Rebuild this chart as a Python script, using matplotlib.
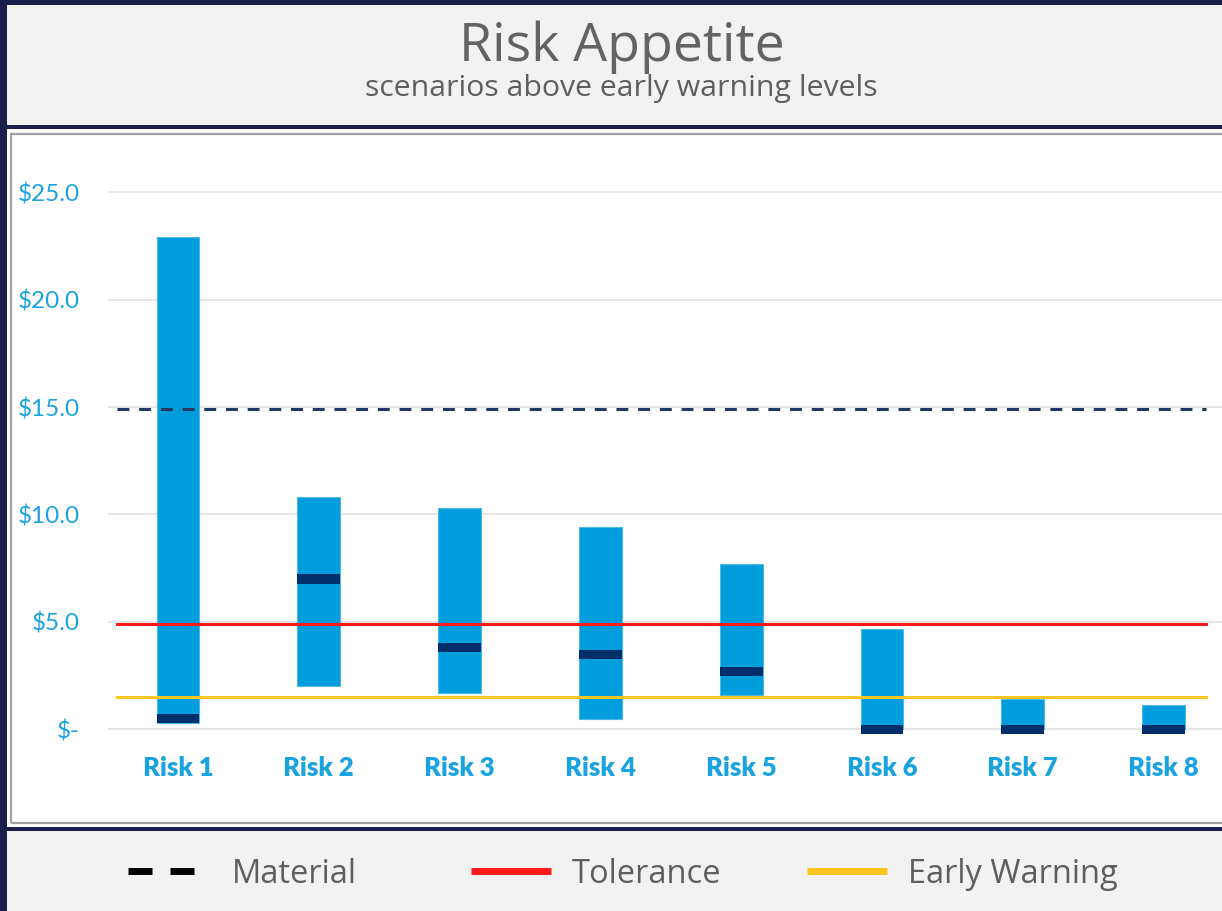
import matplotlib
matplotlib.use("Agg")
import matplotlib.pyplot as plt
from matplotlib.patches import Rectangle
from matplotlib.lines import Line2D
import numpy as np

# ---- data -------------------------------------------------------------
categories = ["Risk 1", "Risk 2", "Risk 3", "Risk 4", "Risk 5", "Risk 6", "Risk 7", "Risk 8"]
scenario_low = [0.3, 2.0, 1.7, 0.5, 1.6, 0.0, 0.0, 0.0]
scenario_high = [22.9, 10.8, 10.3, 9.4, 7.7, 4.65, 1.4, 1.15]
scenario_expected = [0.52, 7.0, 3.8, 3.5, 2.7, 0.0, 0.0, 0.0]

material_level = 14.9
tolerance_level = 4.9
early_warning_level = 1.5

y_ticks = [0, 5, 10, 15, 20, 25]
y_tick_labels = ["$-" if v == 0 else f"${v:.1f}" for v in y_ticks]

# ---- styling ----------------------------------------------------------
W, H = 1222, 911
NAVY_BG = "#1B1E4A"
PANEL_GREY = "#F2F2F2"
BAR_BLUE = "#009DDC"
MARK_NAVY = "#002E6B"
MATERIAL_NAVY = "#1F3864"
TOL_RED = "#FF1A1A"
EW_YELLOW = "#FFC41F"
TICK_BLUE = "#1AA3E0"
TEXT_GREY = "#5E5E5E"

fig = plt.figure(figsize=(W / 100, H / 100), dpi=100)
fig.patch.set_facecolor(NAVY_BG)


def fx(x):
    return x / W


def fy(y):
    return 1 - y / H


def panel(x0, y0, x1, y1, **kw):
    r = Rectangle((fx(x0), fy(y1)), (x1 - x0) / W, (y1 - y0) / H,
                  transform=fig.transFigure, zorder=-10, **kw)
    fig.add_artist(r)
    return r


# header, chart and legend panels
panel(7, 5, W + 5, 125, facecolor=PANEL_GREY, edgecolor="none")
panel(7, 129, W + 5, 826.5, facecolor="white", edgecolor="none")
panel(10.5, 134, W + 20, 823, facecolor="none", edgecolor="#A0A0A0", linewidth=1.6)
panel(7, 831, W + 5, H + 5, facecolor=PANEL_GREY, edgecolor="none")

# ---- axes -------------------------------------------------------------
x_lo, x_hi = -0.497, 7.415
y_lo, y_hi = -0.6, 27.0
ax_left_px, ax_right_px = 108, W
ax_bottom_px, ax_top_px = 742.2, 149.3
ax = fig.add_axes([fx(ax_left_px), fy(ax_bottom_px),
                   (ax_right_px - ax_left_px) / W, (ax_bottom_px - ax_top_px) / H])
ax.set_facecolor("none")
ax.set_xlim(x_lo, x_hi)
ax.set_ylim(y_lo, y_hi)
for s in ax.spines.values():
    s.set_visible(False)

x = np.arange(len(categories))
bar_w = 0.303

ax.set_yticks(y_ticks)
ax.set_yticklabels(y_tick_labels)
ax.grid(axis="y", color="#E6E6E6", linewidth=1.4, zorder=0)
ax.set_axisbelow(True)
ax.tick_params(axis="y", length=0, pad=20, labelsize=17.5, labelcolor=TICK_BLUE)
for lab in ax.get_yticklabels():
    lab.set_fontfamily("Lato")

ax.set_xticks(x)
ax.set_xticklabels(categories)
ax.tick_params(axis="x", length=0, pad=10, labelsize=18.5, labelcolor=TICK_BLUE)
for lab in ax.get_xticklabels():
    lab.set_fontfamily("Lato")
    lab.set_fontweight("heavy")

# scenario ranges
low = np.array(scenario_low)
high = np.array(scenario_high)
ax.bar(x, high - low, bottom=low, width=bar_w, color=BAR_BLUE,
       edgecolor="#4CB9E8", linewidth=0.8, zorder=2)

# expected-loss markers
mark_h = 0.43
exp = np.array(scenario_expected)
ax.bar(x, mark_h, bottom=exp - mark_h / 2, width=bar_w, color=MARK_NAVY,
       linewidth=0, zorder=3)

# appetite thresholds
line_x = [-0.43, 7.30]
ax.plot(line_x, [material_level] * 2, color=MATERIAL_NAVY, linewidth=2.2,
        dashes=(3.9, 3.2), zorder=4, solid_capstyle="butt")
ax.plot(line_x, [tolerance_level] * 2, color=TOL_RED, linewidth=2.2, zorder=4)
ax.plot(line_x, [early_warning_level] * 2, color=EW_YELLOW, linewidth=2.2, zorder=4)

# ---- titles -----------------------------------------------------------
fig.text(fx(622), fy(61), "Risk Appetite", ha="center", va="baseline",
         fontsize=38.5, color="#636363", family="Open Sans")
fig.text(fx(621), fy(96), "scenarios above early warning levels", ha="center",
         va="baseline", fontsize=21.8, color=TEXT_GREY, family="Open Sans")

# ---- legend -----------------------------------------------------------
ly = fy(871)
fig.add_artist(Line2D([fx(128), fx(152)], [ly, ly], color="black", linewidth=5,
                      solid_capstyle="butt", transform=fig.transFigure))
fig.add_artist(Line2D([fx(170), fx(194)], [ly, ly], color="black", linewidth=5,
                      solid_capstyle="butt", transform=fig.transFigure))
fig.add_artist(Line2D([fx(471), fx(551)], [ly, ly], color=TOL_RED, linewidth=5,
                      solid_capstyle="butt", transform=fig.transFigure))
fig.add_artist(Line2D([fx(807), fx(887)], [ly, ly], color=EW_YELLOW, linewidth=5,
                      solid_capstyle="butt", transform=fig.transFigure))

for xpos, label in [(232, "Material"), (572, "Tolerance"), (908, "Early Warning")]:
    fig.text(fx(xpos), fy(883), label, ha="left", va="baseline",
             fontsize=23.5, color=TEXT_GREY, family="Open Sans")

fig.savefig("out.png", dpi=100, facecolor=fig.get_facecolor())
